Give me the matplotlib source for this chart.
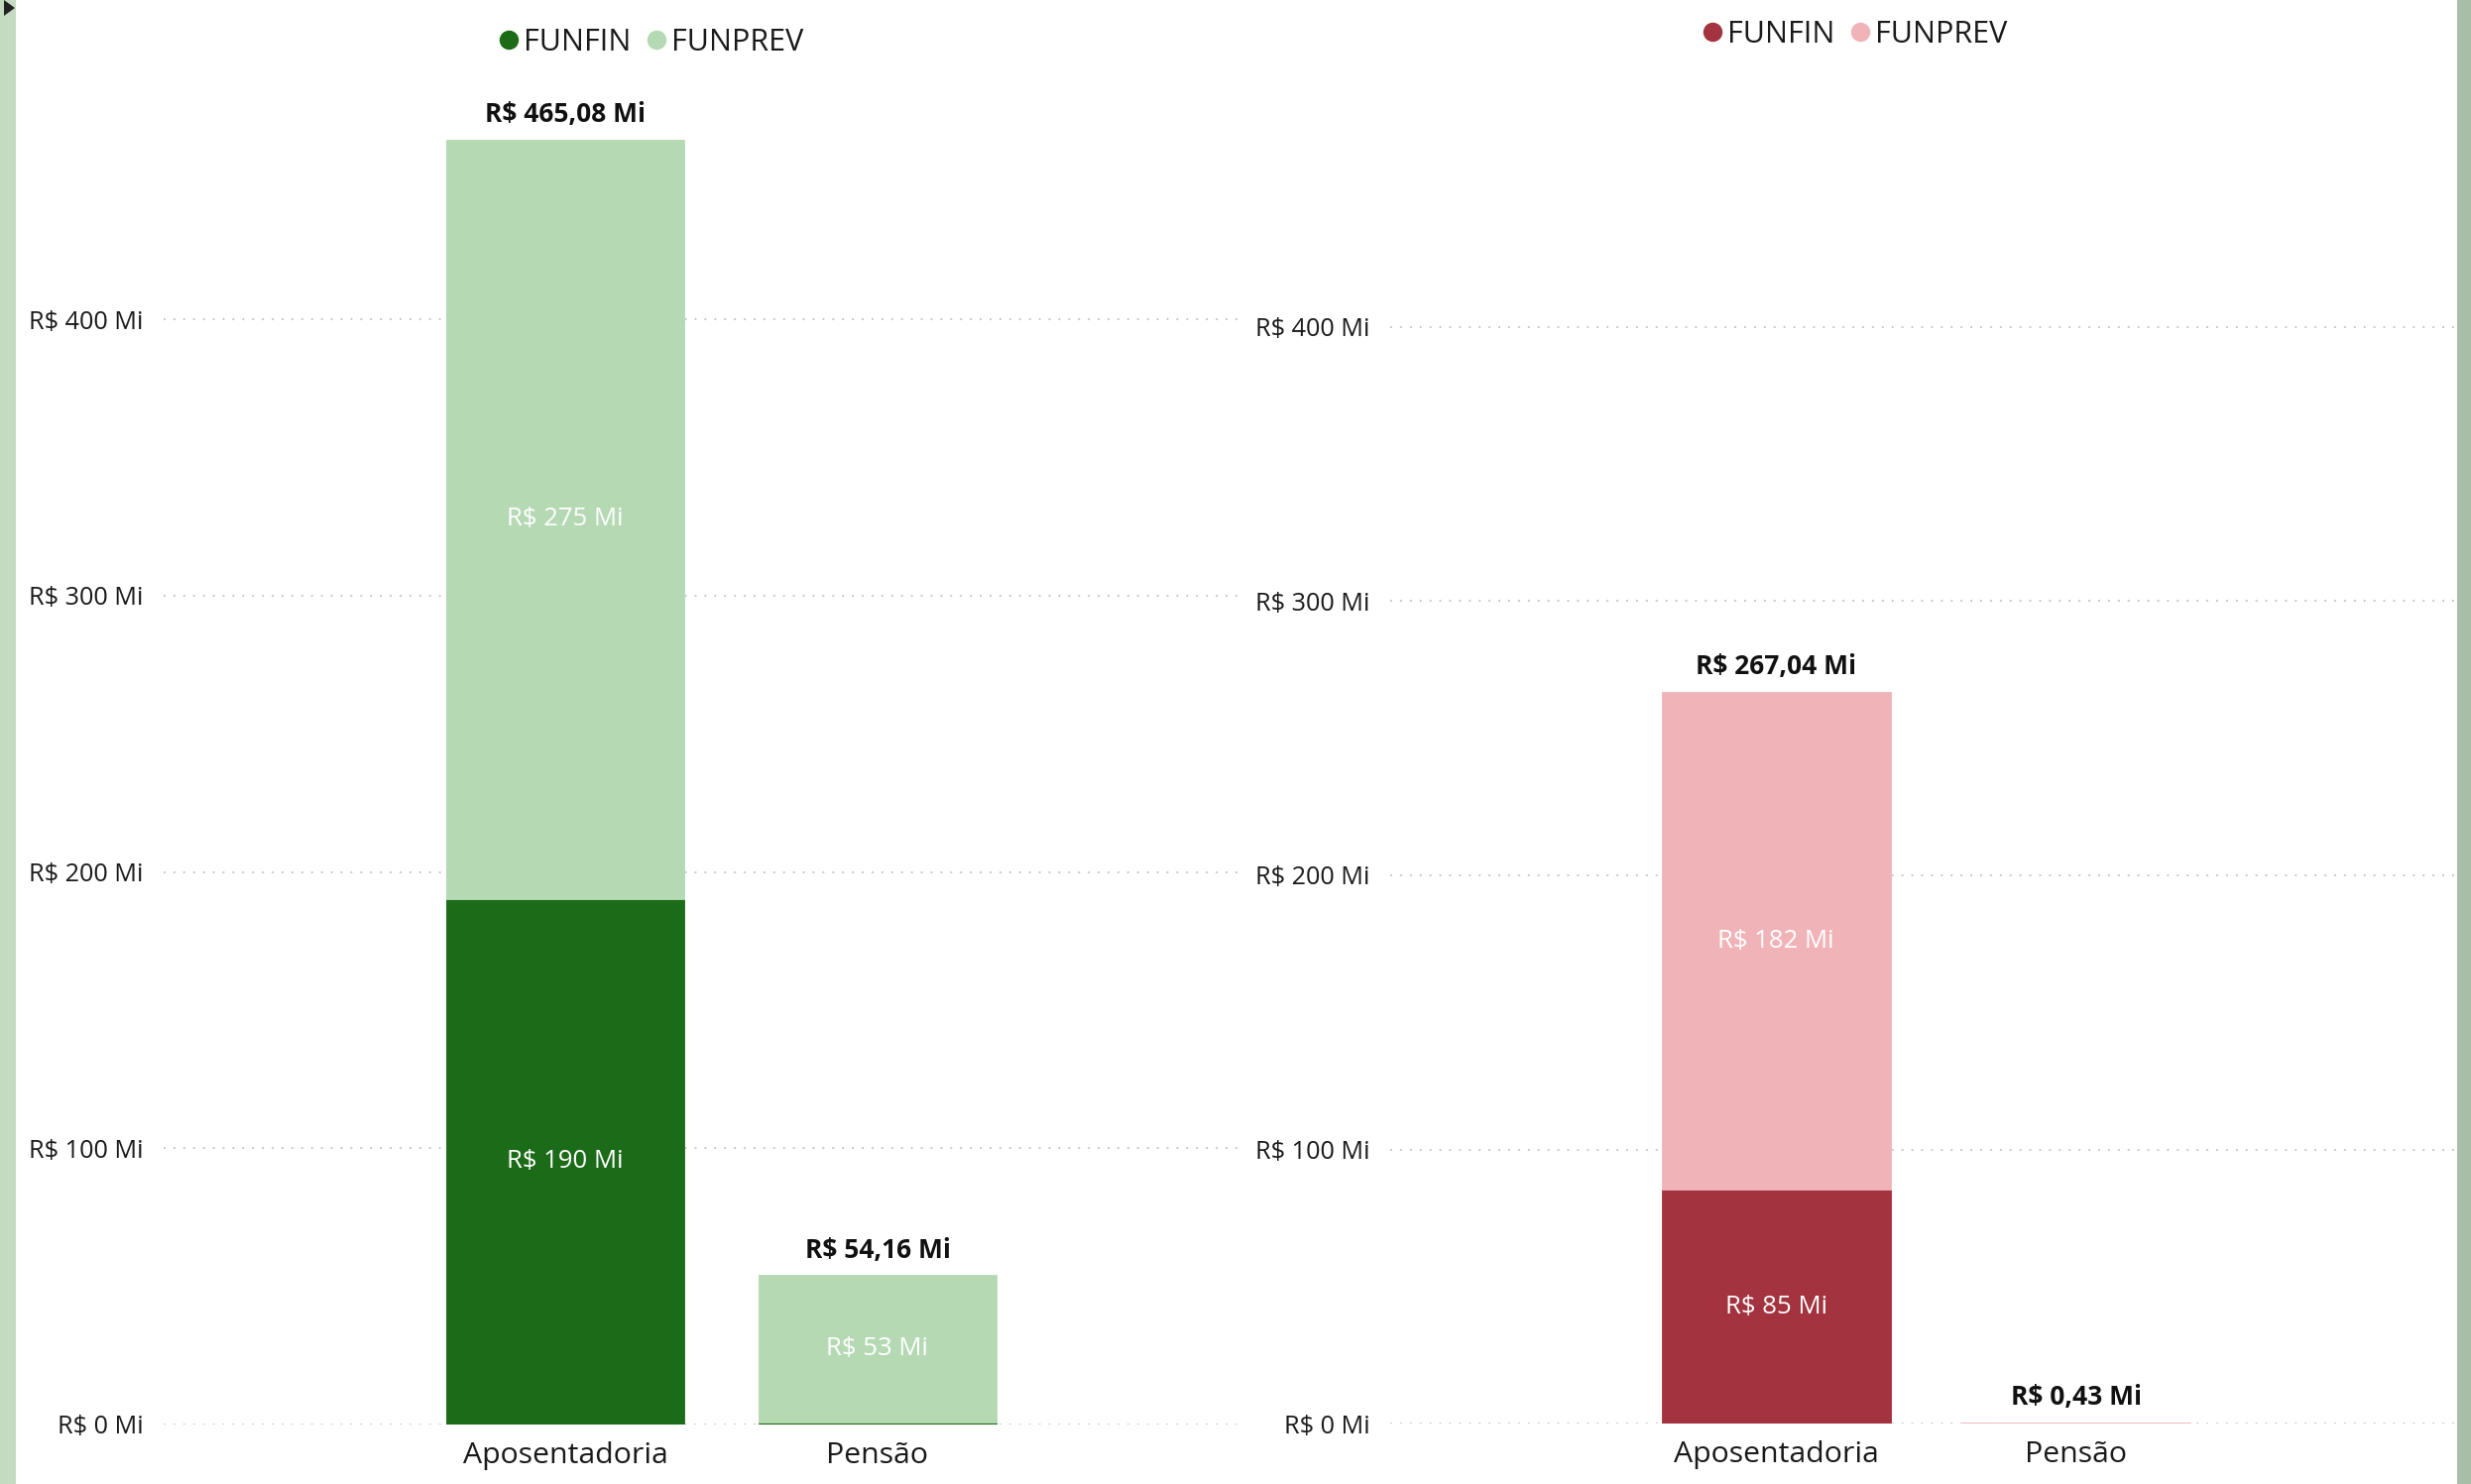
import matplotlib
matplotlib.use("Agg")
import matplotlib.pyplot as plt
import matplotlib.transforms as mtransforms
from matplotlib.lines import Line2D
from matplotlib.patches import Rectangle, Polygon

plt.rcParams['font.family'] = ['Open Sans', 'DejaVu Sans']

# ---------------- data ----------------
categories = ["Aposentadoria", "Pensão"]
series_names = ["FUNFIN", "FUNPREV"]

left_funfin = [190.2, 0.7]
left_funprev = [274.88, 53.46]
left_totals = ["R$ 465,08 Mi", "R$ 54,16 Mi"]

right_funfin = [85.2, 0.0]
right_funprev = [181.84, 0.43]
right_totals = ["R$ 267,04 Mi", "R$ 0,43 Mi"]

yticks = [0, 100, 200, 300, 400]
ytick_labels = ["R$ 0 Mi", "R$ 100 Mi", "R$ 200 Mi", "R$ 300 Mi", "R$ 400 Mi"]

green_colors = ["#1c6b18", "#b5d9b3"]
red_colors = ["#a3333e", "#f0b4b8"]

W, H = 2492, 1497
fig = plt.figure(figsize=(W / 100, H / 100), dpi=100)
fig.patch.set_facecolor("white")


def fpos(x0, x1, ybot, ytop):
    return [x0 / W, 1 - ybot / H, (x1 - x0) / W, (ybot - ytop) / H]


def draw(ax, funfin, funprev, totals, colors, ylim_top, xlim):
    x = list(range(len(categories)))
    bw = 0.762
    ax.bar(x, funfin, width=bw, color=colors[0], edgecolor=colors[0], linewidth=0.6, zorder=3)
    ax.bar(x, funprev, width=bw, bottom=funfin, color=colors[1], edgecolor=colors[1],
           linewidth=0.6, zorder=3)
    ax.set_xlim(*xlim)
    ax.set_ylim(0, ylim_top)
    ax.set_xticks(x)
    ax.set_xticklabels(categories, fontsize=21.8, color="#1a1a1a")
    shift = mtransforms.ScaledTranslation(5 / 100, 0, fig.dpi_scale_trans)
    for lab in ax.get_xticklabels():
        lab.set_transform(lab.get_transform() + shift)
    ax.set_yticks(yticks)
    ax.set_yticklabels(ytick_labels, fontsize=18.2, color="#1a1a1a")
    ax.tick_params(axis="both", length=0)
    ax.tick_params(axis="y", pad=15)
    ax.tick_params(axis="x", pad=12)
    for s in ax.spines.values():
        s.set_visible(False)
    ax.set_axisbelow(True)
    ax.yaxis.grid(True, color="#c8c8c8", linewidth=1.4, linestyle=(0, (1, 4.1)))
    ax.xaxis.grid(False)
    for i in x:
        tot = funfin[i] + funprev[i]
        ax.annotate(totals[i], (i, tot), xytext=(0, 18), textcoords="offset points",
                    ha="center", va="center", fontsize=19, fontweight="bold", color="#111111")
        for base, val in ((0, funfin[i]), (funfin[i], funprev[i])):
            if val > 10:
                ax.text(i, base + val / 2, f"R$ {round(val):.0f} Mi", ha="center", va="center",
                        fontsize=18.5, color="white", zorder=4)


axL = fig.add_axes(fpos(165, 1255, 1437, 100))
draw(axL, left_funfin, left_funprev, left_totals, green_colors,
     1337 / 2.7875, (-1.286, 2.175))

axR = fig.add_axes(fpos(1402, 2478, 1436, 100))
draw(axR, right_funfin, right_funprev, right_totals, red_colors,
     1336 / 2.765, (-1.285, 2.268))


def legend(colors, xpx, ypx):
    handles = [Line2D([], [], linestyle="none", marker="o", markersize=13,
                      markerfacecolor=c, markeredgecolor=c) for c in colors]
    fig.legend(handles, series_names, loc="center left",
               bbox_to_anchor=(xpx / W, 1 - ypx / H), ncol=2, frameon=False,
               fontsize=22, handlelength=0.6, handletextpad=0.2, columnspacing=0.52,
               borderpad=0, borderaxespad=0, labelcolor="#1a1a1a")


legend(green_colors, 504, 43)
legend(red_colors, 1718, 35)

# page edge decorations
fig.patches.append(Rectangle((0, 0), 16 / W, 1, transform=fig.transFigure,
                             facecolor="#c4dbc1", edgecolor="none", zorder=10))
fig.patches.append(Rectangle((2478 / W, 0), 14 / W, 1, transform=fig.transFigure,
                             facecolor="#a9bea6", edgecolor="none", zorder=10))
fig.patches.append(Polygon([(4 / W, 1), (4 / W, 1 - 16 / H), (15 / W, 1 - 8 / H)],
                           closed=True, transform=fig.transFigure,
                           facecolor="#222222", edgecolor="none", zorder=11))

fig.savefig("out.png", dpi=100)
